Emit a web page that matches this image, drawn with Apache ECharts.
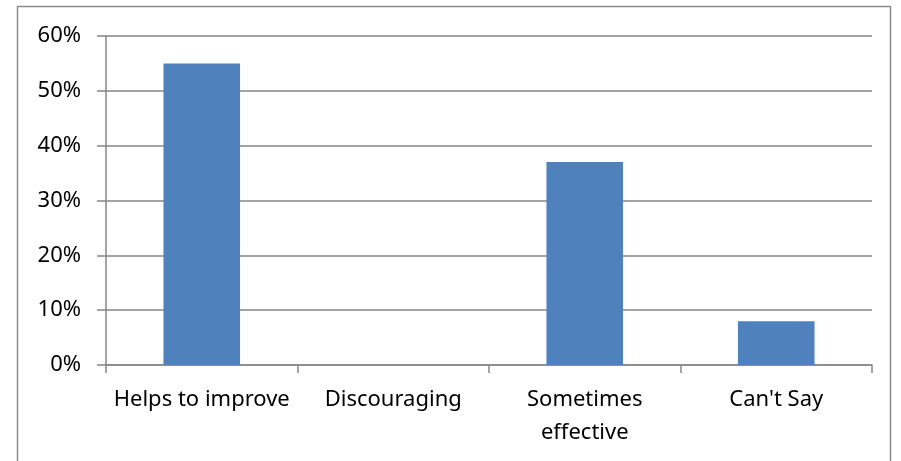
<!DOCTYPE html>
<html><head><meta charset="utf-8">
<script src="https://cdn.jsdelivr.net/npm/echarts@6/dist/echarts.min.js"></script>
<style>html,body{margin:0;padding:0;background:#fff}#c{width:901px;height:461px}</style>
</head><body><div id="c"></div>
<script>
const categories = ["Helps to improve", "Discouraging", "Sometimes\neffective", "Can't Say"];
const values = [0.55, 0, 0.37, 0.08];
const yTicks = { min: 0, max: 0.6, interval: 0.1 };

const chart = echarts.init(document.getElementById('c'), null, { renderer: 'canvas' });
const grey = '#868686';
const font = 'Noto Sans';
chart.setOption({
  animation: false,
  graphic: [{ type: 'rect', shape: { x: 17.5, y: 6.5, width: 873, height: 470 }, style: { fill: 'none', stroke: '#8c8c8c', lineWidth: 1.5 }, silent: true }],
  grid: { left: 106, right: 29, top: 36, bottom: 96, containLabel: false },
  xAxis: {
    type: 'category', data: categories,
    axisLine: { lineStyle: { color: grey, width: 1.5 } },
    axisTick: { show: true, length: 8, lineStyle: { color: grey, width: 1.5 } },
    axisLabel: { color: '#000', fontFamily: font, fontSize: 22, margin: 18, lineHeight: 33, interval: 0 },
    splitLine: { show: false }
  },
  yAxis: {
    type: 'value', min: yTicks.min, max: yTicks.max, interval: yTicks.interval,
    axisLine: { show: true, lineStyle: { color: grey, width: 1.5 } },
    axisTick: { show: true, length: 9, lineStyle: { color: grey, width: 1.5 } },
    axisLabel: { color: '#000', fontFamily: font, fontSize: 22, margin: 25, formatter: v => Math.round(v * 100) + '%' },
    splitLine: { show: true, lineStyle: { color: grey, width: 1.5 } }
  },
  series: [{
    type: 'bar', data: values, barCategoryGap: '60%',
    itemStyle: { color: '#4f81bd' }
  }]
});
</script></body></html>
